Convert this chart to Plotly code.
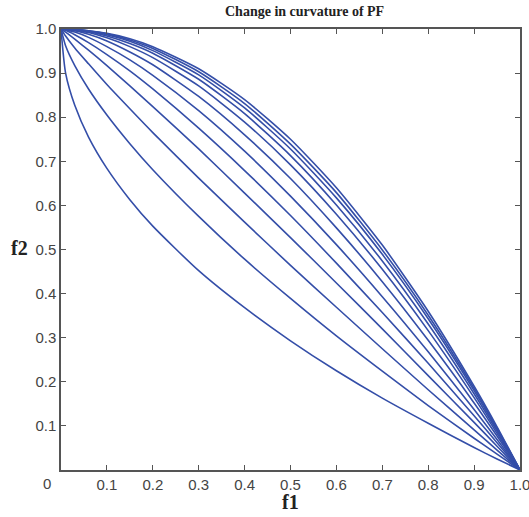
import plotly.graph_objects as go

# f1 sample positions
f1 = [0, 0.01, 0.03, 0.06, 0.1, 0.15, 0.2, 0.3, 0.4, 0.5, 0.6, 0.7, 0.8, 0.9, 0.95, 1.0]

# f2 values of each front (lowest/convex to highest/concave)
front_01 = [1, 0.900, 0.827, 0.755, 0.684, 0.613, 0.553, 0.452, 0.368, 0.293, 0.225, 0.163, 0.106, 0.051, 0.025, 0]
front_02 = [1, 0.962, 0.917, 0.864, 0.805, 0.740, 0.681, 0.575, 0.478, 0.389, 0.304, 0.224, 0.146, 0.072, 0.036, 0]
front_03 = [1, 0.984, 0.957, 0.921, 0.874, 0.819, 0.765, 0.662, 0.562, 0.464, 0.369, 0.275, 0.182, 0.091, 0.045, 0]
front_04 = [1, 0.993, 0.977, 0.952, 0.917, 0.871, 0.824, 0.728, 0.628, 0.527, 0.424, 0.320, 0.214, 0.108, 0.054, 0]
front_05 = [1, 0.997, 0.987, 0.969, 0.942, 0.905, 0.864, 0.775, 0.679, 0.577, 0.469, 0.357, 0.242, 0.123, 0.062, 0]
front_06 = [1, 0.998, 0.993, 0.981, 0.960, 0.930, 0.895, 0.815, 0.723, 0.621, 0.511, 0.393, 0.268, 0.137, 0.069, 0]
front_07 = [1, 0.999, 0.996, 0.988, 0.973, 0.948, 0.919, 0.847, 0.760, 0.661, 0.549, 0.427, 0.294, 0.152, 0.077, 0]
front_08 = [1, 1.000, 0.997, 0.992, 0.980, 0.960, 0.935, 0.871, 0.789, 0.692, 0.580, 0.455, 0.316, 0.164, 0.083, 0]
front_09 = [1, 1.000, 0.998, 0.994, 0.984, 0.967, 0.945, 0.886, 0.808, 0.713, 0.601, 0.474, 0.331, 0.173, 0.088, 0]
front_10 = [1, 1.000, 0.999, 0.995, 0.987, 0.972, 0.951, 0.896, 0.821, 0.728, 0.617, 0.489, 0.343, 0.180, 0.092, 0]
front_11 = [1, 1.000, 0.999, 0.996, 0.989, 0.975, 0.956, 0.903, 0.831, 0.739, 0.629, 0.499, 0.351, 0.185, 0.095, 0]
front_12 = [1, 1.000, 0.999, 0.996, 0.990, 0.978, 0.960, 0.910, 0.840, 0.750, 0.640, 0.510, 0.360, 0.190, 0.098, 0]

fronts = [front_01, front_02, front_03, front_04, front_05, front_06,
          front_07, front_08, front_09, front_10, front_11, front_12]

x_ticks = [0.1, 0.2, 0.3, 0.4, 0.5, 0.6, 0.7, 0.8, 0.9, 1.0]
x_tick_labels = ["0.1", "0.2", "0.3", "0.4", "0.5", "0.6", "0.7", "0.8", "0.9", "1.0"]
y_ticks = [0.1, 0.2, 0.3, 0.4, 0.5, 0.6, 0.7, 0.8, 0.9, 1.0]
y_tick_labels = ["0.1", "0.2", "0.3", "0.4", "0.5", "0.6", "0.7", "0.8", "0.9", "1.0"]

title_text = "Change in curvature of PF"
x_label = "f1"
y_label = "f2"

LINE = "rgb(52,78,168)"
TICKFONT = dict(family="Liberation Sans Narrow, Arial Narrow, Liberation Sans, Arial", size=15, color="#444444")
SERIF = "Liberation Serif, Times New Roman, serif"

fig = go.Figure()
for ys in fronts:
    fig.add_trace(go.Scatter(x=f1, y=ys, mode="lines",
                             line=dict(color=LINE, width=1.6, shape="spline", smoothing=0.6),
                             showlegend=False, hoverinfo="skip"))

axis_common = dict(range=[0, 1], showgrid=False, zeroline=False,
                   showline=True, linecolor="#555555", linewidth=1.5,
                   mirror="ticks", ticks="inside", ticklen=5, tickcolor="#555555",
                   tickwidth=1, tickfont=TICKFONT, automargin=False,
                   ticklabeloverflow="allow")

fig.update_xaxes(tickvals=x_ticks, ticktext=x_tick_labels, **axis_common)
fig.update_yaxes(tickvals=y_ticks, ticktext=y_tick_labels, **axis_common)

fig.update_layout(
    width=529, height=517, autosize=False,
    margin=dict(l=61, r=9, t=29, b=47),
    plot_bgcolor="white", paper_bgcolor="white",
    annotations=[
        dict(text="<b>" + title_text + "</b>", x=0.531, y=1.0, xref="paper", yref="paper",
             xanchor="center", yanchor="bottom", yshift=8, showarrow=False,
             font=dict(family=SERIF, size=14, color="#222222")),
        dict(text="<b>" + x_label + "</b>", x=0.5, y=0, xref="paper", yref="paper",
             xanchor="center", yanchor="top", yshift=-19, showarrow=False,
             font=dict(family=SERIF, size=20, color="#222222")),
        dict(text="<b>" + y_label + "</b>", x=0, y=0.5, xref="paper", yref="paper",
             xanchor="right", yanchor="middle", xshift=-31, yshift=2, showarrow=False,
             font=dict(family=SERIF, size=20, color="#222222")),
        dict(text="0", x=0, y=0, xref="paper", yref="paper",
             xanchor="right", yanchor="top", xshift=-8, yshift=-3, showarrow=False,
             font=TICKFONT),
    ],
)

fig.write_html(
    "out.html",
    config={"responsive": False, "displayModeBar": False},
    post_script="document.body.style.margin='0';document.body.style.padding='0';"
                "document.body.style.overflow='hidden';"
                "Plotly.relayout('{plot_id}', {width:529, height:517});",
)
